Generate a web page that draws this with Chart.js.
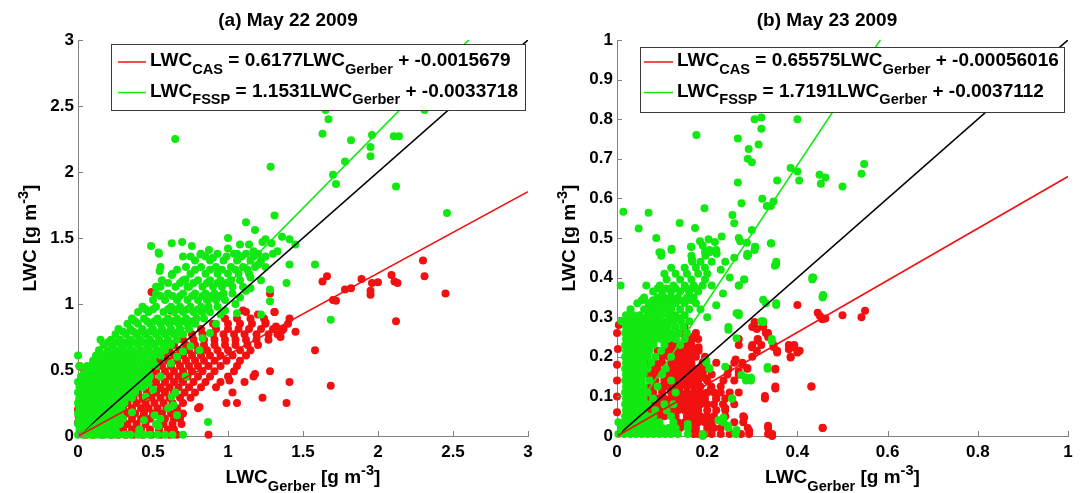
<!DOCTYPE html>
<html><head><meta charset="utf-8">
<script src="https://cdn.jsdelivr.net/npm/chart.js@4/dist/chart.umd.min.js"></script>
<style>
html,body{margin:0;padding:0;background:#fff;width:1082px;height:493px;overflow:hidden}
canvas{position:absolute;top:0}
#ca{left:0}#cb{left:541px}
</style></head>
<body>
<canvas id="ca" width="541" height="493"></canvas>
<canvas id="cb" width="541" height="493"></canvas>
<script>
// ---------- tick values / labels ----------
const aXTicks = [0,0.5,1,1.5,2,2.5,3];
const aXLabels = ['0','0.5','1','1.5','2','2.5','3'];
const aYTicks = [0,0.5,1,1.5,2,2.5,3];
const aYLabels = ['0','0.5','1','1.5','2','2.5','3'];
const bXTicks = [0,0.2,0.4,0.6,0.8,1];
const bXLabels = ['0','0.2','0.4','0.6','0.8','1'];
const bYTicks = [0,0.1,0.2,0.3,0.4,0.5,0.6,0.7,0.8,0.9,1];
const bYLabels = ['0','0.1','0.2','0.3','0.4','0.5','0.6','0.7','0.8','0.9','1'];

// ---------- fit coefficients (slope, intercept) ----------
const aFitCAS = [0.6177, -0.0015679];
const aFitFSSP = [1.1531, -0.0033718];
const bFitCAS = [0.65575, -0.00056016];
const bFitFSSP = [1.7191, -0.0037112];

// ---------- panel (a) May 22 : FSSP (green) rows [y, x...] ----------
const aGreenRows = [
[0.01, 0,0.03,0.06,0.09,0.12,0.15,0.18,0.21,0.24,0.27,0.31,0.35,0.40,0.44,0.48,0.53,0.58,0.63,0.70],
[0.05, 0.01,0.04,0.07,0.10,0.13,0.16,0.19,0.22,0.25,0.41],
[0.09, 0,0.03,0.06,0.09,0.12,0.15,0.18,0.21,0.24,0.28],
[0.13, 0.01,0.04,0.07,0.10,0.13,0.16,0.19,0.22,0.26,0.30],
[0.17, 0,0.03,0.06,0.09,0.12,0.15,0.18,0.21,0.24,0.28],
[0.21, 0.01,0.04,0.07,0.10,0.13,0.16,0.19,0.22,0.25,0.29],
[0.25, 0,0.03,0.06,0.09,0.12,0.15,0.18,0.21,0.24,0.27,0.31],
[0.29, 0.01,0.04,0.07,0.10,0.13,0.16,0.19,0.22,0.25,0.28,0.32,0.36],
[0.33, 0,0.03,0.06,0.09,0.12,0.15,0.18,0.21,0.24,0.27,0.30,0.34,0.38],
[0.37, 0.01,0.04,0.07,0.10,0.13,0.16,0.19,0.22,0.25,0.28,0.31,0.35,0.39,0.43],
[0.41, 0,0.03,0.06,0.09,0.12,0.15,0.18,0.21,0.24,0.27,0.30,0.33,0.37,0.41,0.45],
[0.45, 0.02,0.05,0.08,0.11,0.14,0.17,0.20,0.23,0.26,0.29,0.32,0.36,0.40,0.44,0.48],
[0.49, 0.04,0.07,0.10,0.13,0.16,0.19,0.22,0.25,0.28,0.31,0.34,0.38,0.42,0.46],
[0.53, 0.01,0.06,0.09,0.12,0.15,0.18,0.21,0.24,0.27,0.30,0.34,0.38,0.43,0.47,0.52],
[0.57, 0.10,0.13,0.16,0.20,0.24,0.28,0.32,0.36,0.40,0.45,0.50],
[0.61, 0.00,0.12,0.17,0.22,0.26,0.30,0.35,0.40,0.44,0.49,0.55],
[0.63, 0.19,0.27,0.33,0.38,0.45,0.51],
[0.65, 0.14,0.20,0.25,0.30,0.36,0.42,0.47,0.53,0.58],
[0.69, 0.17,0.23,0.29,0.34,0.40,0.46,0.51,0.57,0.62],
[0.71, 0.20,0.26,0.32,0.38,0.44,0.49,0.55,0.60],
[0.73, 0.15,0.22,0.28,0.35,0.41,0.48,0.54,0.60,0.66],
[0.77, 0.25,0.32,0.39,0.45,0.52,0.58,0.64,0.70],
[0.79, 0.30,0.37,0.42,0.48,0.55,0.61,0.67],
[0.81, 0.27,0.35,0.43,0.50,0.56,0.62,0.68,0.74],
[0.85, 0.33,0.40,0.48,0.55,0.61,0.67,0.73,0.78],
[0.87, 0.38,0.46,0.51,0.58,0.64,0.70,0.76],
[0.89, 0.36,0.44,0.53,0.60,0.66,0.72,0.79,0.84],
[0.94, 0.40,0.47,0.57,0.64,0.70,0.77,0.83,0.88],
[0.96, 0.45,0.50,0.60,0.66,0.73,0.80,0.85],
[0.98, 0.43,0.52,0.62,0.68,0.75,0.82,0.87,0.93],
[1.03, 0.50,0.58,0.66,0.73,0.80,0.86,0.92,0.98],
[1.06, 0.55,0.63,0.68,0.76,0.83,0.89,0.95],
[1.08, 0.52,0.60,0.70,0.78,0.85,0.91,0.97,1.03],
[1.13, 0.55,0.65,0.74,0.83,0.90,0.96,1.03,1.10],
[1.16, 0.60,0.68,0.77,0.86,0.93,0.99],
[1.18, 0.56,0.70,0.80,0.88,0.95,1.02,1.08],
[1.23, 0.63,0.75,0.85,0.93,1.00,1.07,1.14],
[1.26, 0.66,0.78,0.88,0.96,1.05,1.13],
[1.28, 0.55,0.72,0.82,0.92,1.02,1.10,1.18,1.25],
[1.33, 0.78,0.88,0.97,1.06,1.15,1.22],
[1.36, 0.70,0.85,0.99,1.09,1.17,1.25],
[1.38, 0.54,0.82,0.93,1.04,1.12,1.20,1.30]
];
// sparse FSSP points, panel (a) [x,y,...]
const aGreenSparse = [
0.648,2.25, 1.284,2.04, 1.63,2.29, 1.67,2.40, 1.65,2.47, 1.70,1.98, 1.72,1.91, 1.78,2.08, 1.82,2.24,
1.95,2.19, 1.95,2.12, 1.96,2.28, 2.105,2.27, 2.14,2.27, 2.12,1.89, 2.31,2.47, 2.46,1.69, 1.31,1.67,
1.12,1.62, 1.18,1.56, 1.00,1.50, 1.08,1.45, 1.14,1.45, 1.23,1.47, 1.25,1.49, 1.29,1.46, 1.36,1.51,
1.41,1.49, 1.45,1.45, 0.487,1.44, 0.694,1.47, 0.759,1.44, 0.537,1.39, 0.625,1.46, 0.75,1.36,
0.816,1.375, 0.873,1.41, 0.90,1.35, 1.58,1.30, 1.41,1.30, 1.39,1.16, 1.28,1.11, 1.28,1.02, 1.22,0.92,
1.06,0.93, 1.685,0.88, 0.544,1.25, 0.52,1.13, 0.625,1.22, 0.717,1.185, 0.73,1.13, 1.0,1.42, 1.17,1.40,
1.33,1.40, 1.06,1.38, 1.2,1.30, 1.15,1.20, 1.12,1.10, 1.05,1.00,
0.636,0.233, 0.66,0.157, 0.625,0.297, 0.867,0.107, 0.717,0.45, 0.51,0.157, 0.537,0.074, 0.452,0.297,
0.36,0.18, 0.44,0.12, 0.81,0.65, 0.75,0.68, 0.88,0.78, 0.52,0.09, 0.55,0.13, 0.60,0.21,
0.65,0.33, 0.50,0.35, 0.47,0.40, 0.55,0.45, 0.62,0.55, 0.66,0.60, 0.70,0.64, 0.83,0.74, 0.92,0.85,
0.95,0.92, 0.98,0.95, 1.08,1.05, 1.15,1.12, 1.22,1.18
];
// CAS (red) rows, panel (a)
const aRedRows = [
[0.01, 0.05,0.10,0.16,0.22,0.27,0.32,0.37,0.43,0.49,0.55,0.61,0.66,0.87],
[0.05, 0.12,0.18,0.24,0.30,0.36,0.42,0.48,0.54,0.60,0.64],
[0.09, 0.15,0.21,0.27,0.33,0.39,0.45,0.57,0.63,0.69],
[0.13, 0.18,0.24,0.30,0.36,0.42,0.48,0.58,0.64,0.68],
[0.17, 0.20,0.26,0.32,0.38,0.44,0.50,0.56,0.62,0.70],
[0.21, 0.24,0.30,0.36,0.42,0.47,0.53,0.59,0.66,0.80],
[0.25, 0.27,0.33,0.39,0.45,0.51,0.57,0.63,0.70,0.99,1.06,1.39],
[0.29, 0.31,0.37,0.43,0.49,0.55,0.61,0.68,0.75,1.23],
[0.33, 0.34,0.40,0.46,0.52,0.58,0.64,0.71,0.78,1.03],
[0.37, 0.37,0.43,0.49,0.55,0.61,0.67,0.74,0.82,0.92],
[0.41, 0.40,0.46,0.52,0.58,0.64,0.70,0.77,0.85,0.95,1.11,1.41],
[0.45, 0.43,0.49,0.55,0.61,0.67,0.73,0.80,0.88,1.00,1.17],
[0.49, 0.46,0.52,0.58,0.64,0.70,0.76,0.83,0.91,1.04,1.28],
[0.53, 0.50,0.56,0.62,0.68,0.74,0.80,0.87,0.95,1.06],
[0.57, 0.54,0.60,0.66,0.72,0.78,0.84,0.91,0.99,1.08],
[0.61, 0.58,0.64,0.70,0.76,0.82,0.88,0.95,1.03,1.12],
[0.65, 0.61,0.68,0.74,0.80,0.86,0.93,1.00,1.08,1.15,1.58],
[0.69, 0.64,0.72,0.78,0.84,0.91,0.98,1.05,1.13,1.20],
[0.73, 0.70,0.77,0.84,0.91,0.98,1.05,1.12,1.19,1.27],
[0.77, 0.76,0.83,0.90,0.97,1.04,1.11,1.19,1.27,1.33],
[0.81, 0.82,0.92,1.00,1.07,1.14,1.22,1.30,1.37],
[0.85, 0.90,1.00,1.08,1.16,1.25,1.40],
[0.89, 0.98,1.06,1.15,1.24,1.41],
[0.94, 1.12,1.31]
];
const aRedSparse = [
0.01,0.53, 0.23,0.60, 0.49,1.09, 0.62,0.95, 1.28,1.08, 1.45,0.79, 2.30,1.33, 2.31,1.21, 2.45,1.08,
2.12,0.87, 2.09,1.22, 2.0,1.165, 1.96,1.16, 1.95,1.10, 1.95,1.07, 1.89,1.19, 1.82,1.12, 1.78,1.11,
1.70,1.03, 1.72,1.025, 1.63,1.17, 1.66,1.21, 1.685,0.38, 2.11,1.17, 2.13,1.16, 1.36,0.80, 1.32,0.83,
1.31,0.94, 1.25,0.86, 1.18,0.47, 1.01,0.42, 0.81,0.22, 0.68,0.146, 0.0,0.10, 0.0,0.20, 0.01,0.28,
0.005,0.15, 1.35,0.75, 1.10,0.95, 1.20,0.92
];

// ---------- panel (b) May 23 ----------
const bGreenRows = [
[0.005, 0.003,0.016,0.029,0.042,0.055,0.068,0.081,0.094,0.107,0.12,0.135,0.157,0.19,0.263],
[0.02, 0.01,0.023,0.036,0.049,0.062,0.075,0.088,0.10,0.115,0.13,0.157,0.247],
[0.035, 0.003,0.016,0.029,0.042,0.055,0.068,0.081,0.094,0.125,0.236],
[0.05, 0.018,0.03,0.042,0.055,0.068,0.081,0.12],
[0.065, 0.02,0.033,0.046,0.059,0.085,0.11],
[0.08, 0.018,0.03,0.042,0.055,0.068,0.105,0.125],
[0.095, 0.02,0.033,0.046,0.059,0.08,0.255],
[0.11, 0.018,0.03,0.042,0.055,0.068,0.13],
[0.125, 0.02,0.033,0.046,0.059,0.09],
[0.14, 0.018,0.03,0.042,0.055,0.072,0.12,0.286,0.297],
[0.155, 0.02,0.033,0.046,0.059,0.10],
[0.17, 0.018,0.03,0.042,0.055,0.068,0.108,0.205,0.334],
[0.185, 0.02,0.033,0.046,0.059,0.076,0.198],
[0.20, 0.018,0.03,0.042,0.055,0.068,0.085,0.12],
[0.215, 0.02,0.033,0.046,0.059,0.072,0.098],
[0.23, 0.018,0.03,0.042,0.055,0.068,0.081,0.105,0.14],
[0.245, 0.02,0.033,0.046,0.059,0.072,0.085,0.098,0.113,0.13,0.15,0.343],
[0.2525, 0.025,0.05,0.075,0.10,0.125],
[0.26, 0.018,0.03,0.042,0.055,0.068,0.081,0.094,0.105,0.12,0.137,0.155],
[0.275, 0.02,0.033,0.046,0.059,0.072,0.085,0.098,0.113,0.13,0.147,0.247],
[0.29, 0.01,0.023,0.036,0.049,0.065,0.08,0.095,0.11,0.125,0.142,0.16,0.324],
[0.2975, 0.03,0.058,0.088,0.12,0.14],
[0.305, 0.02,0.036,0.05,0.068,0.083,0.098,0.115,0.13,0.15,0.27],
[0.32, 0.03,0.06,0.075,0.09,0.105,0.12,0.14,0.16],
[0.335, 0.045,0.07,0.085,0.10,0.115,0.13,0.15,0.175,0.353],
[0.3425, 0.055,0.08,0.11,0.14,0.165],
[0.35, 0.06,0.09,0.105,0.12,0.135,0.155,0.17,0.456],
[0.365, 0.08,0.10,0.12,0.14,0.16,0.18],
[0.3725, 0.09,0.11,0.13,0.155,0.175],
[0.38, 0.008,0.065,0.095,0.125,0.15,0.17,0.19,0.27],
[0.395, 0.11,0.14,0.165,0.195,0.282,0.433],
[0.41, 0.105,0.13,0.155,0.18,0.20],
[0.425, 0.12,0.15,0.175,0.195],
[0.44, 0.167,0.185,0.21,0.353],
[0.455, 0.098,0.165,0.196,0.289],
[0.47, 0.121,0.205,0.22,0.305]
];
const bGreenSparse = [
0.014,0.566, 0.048,0.524, 0.07,0.564, 0.087,0.50, 0.139,0.538, 0.121,0.473, 0.165,0.477, 0.173,0.525,
0.176,0.760, 0.194,0.575, 0.184,0.492, 0.19,0.481, 0.203,0.497, 0.217,0.49, 0.232,0.504, 0.256,0.558,
0.26,0.537, 0.268,0.64, 0.268,0.751, 0.27,0.50, 0.273,0.492, 0.276,0.588, 0.288,0.488, 0.292,0.725,
0.29,0.70, 0.299,0.691, 0.299,0.52, 0.305,0.80, 0.32,0.804, 0.314,0.736, 0.32,0.776, 0.322,0.599,
0.332,0.581, 0.341,0.581, 0.347,0.592, 0.355,0.645, 0.385,0.677, 0.40,0.668, 0.404,0.645, 0.40,0.80,
0.449,0.66, 0.452,0.637, 0.462,0.653, 0.50,0.63, 0.542,0.662, 0.548,0.687, 0.342,0.486, 0.307,0.477,
0.098,0.463, 0.166,0.446, 0.164,0.478, 0.195,0.465, 0.221,0.46, 0.289,0.455, 0.306,0.478, 0.341,0.487,
0.094,0.464, 0.167,0.443, 0.205,0.464, 0.22,0.464, 0.289,0.46, 0.353,0.434, 0.282,0.395,
0.27,0.38, 0.324,0.344, 0.353,0.331, 0.433,0.40, 0.456,0.352, 0.247,0.268, 0.27,0.31, 0.324,0.288,
0.343,0.24, 0.334,0.174, 0.286,0.148, 0.297,0.148, 0.255,0.095, 0.236,0.047, 0.247,0.026, 0.263,0.009,
0.19,0.0, 0.157,0.03, 0.198,0.19, 0.205,0.172, 0.265,0.247, 0.24,0.175, 0.276,0.154, 0.265,0.31,
0.291,0.457, 0.35,0.43, 0.225,0.04, 0.265,0.015, 0.33,0.335, 0.32,0.29, 0.435,0.40, 0.457,0.356,
0.23,0.42, 0.25,0.40, 0.21,0.38, 0.235,0.36, 0.22,0.33, 0.20,0.30, 0.185,0.32, 0.24,0.44, 0.26,0.45
];
const bRedRows = [
[0.005, 0.17,0.18,0.195,0.21,0.23,0.25,0.275,0.293,0.335,0.344],
[0.02, 0.14,0.16,0.175,0.20,0.215,0.23,0.29,0.335,0.456],
[0.035, 0.135,0.15,0.165,0.18,0.195,0.21,0.26,0.28],
[0.05, 0.09,0.105,0.13,0.155,0.17,0.185,0.20,0.215,0.24,0.28],
[0.065, 0.075,0.095,0.12,0.135,0.15,0.165,0.18,0.20,0.22,0.24],
[0.08, 0.08,0.09,0.11,0.14,0.155,0.17,0.185,0.20,0.215,0.235,0.26],
[0.095, 0.07,0.09,0.105,0.12,0.135,0.15,0.165,0.18,0.195,0.22,0.24,0.328],
[0.11, 0.08,0.10,0.12,0.14,0.155,0.17,0.185,0.20,0.215,0.23,0.25,0.27],
[0.125, 0.075,0.095,0.11,0.125,0.14,0.155,0.17,0.185,0.209,0.23,0.351,0.431],
[0.14, 0.085,0.105,0.12,0.135,0.15,0.165,0.18,0.20,0.236,0.26],
[0.155, 0.07,0.085,0.10,0.115,0.13,0.145,0.16,0.175,0.19,0.21,0.245,0.27],
[0.17, 0.08,0.09,0.11,0.125,0.14,0.155,0.17,0.185,0.20,0.247,0.289,0.351],
[0.185, 0.07,0.085,0.10,0.12,0.135,0.15,0.165,0.19,0.22,0.26,0.278],
[0.20, 0.10,0.115,0.13,0.145,0.16,0.175,0.195,0.30,0.385],
[0.215, 0.09,0.11,0.125,0.14,0.155,0.17,0.181,0.31,0.355,0.40,0.405],
[0.23, 0.12,0.135,0.15,0.165,0.27,0.30,0.32,0.347,0.381,0.393],
[0.245, 0.13,0.15,0.167,0.18,0.27,0.312],
[0.26, 0.14,0.152,0.175,0.335],
[0.275, 0.15,0.30,0.324]
];
const bRedSparse = [
0.0,0.06, 0.0,0.10, 0.0,0.14, 0.0,0.18, 0.002,0.22, 0.0,0.26, 0.004,0.28, 0.40,0.331, 0.445,0.311,
0.45,0.303, 0.462,0.297, 0.50,0.305, 0.542,0.30, 0.55,0.316, 0.305,0.288, 0.455,0.295, 0.312,0.241,
0.299,0.224, 0.335,0.25, 0.347,0.225, 0.381,0.219, 0.393,0.224, 0.40,0.211, 0.385,0.198, 0.355,0.211,
0.263,0.193, 0.278,0.18, 0.289,0.172, 0.27,0.163, 0.247,0.168, 0.351,0.168, 0.351,0.12, 0.328,0.101,
0.431,0.125, 0.456,0.021, 0.335,0.026, 0.344,0.0, 0.293,0.013, 0.282,0.047, 0.24,0.071, 0.22,0.095,
0.209,0.12, 0.196,0.146, 0.19,0.185, 0.181,0.224, 0.167,0.25, 0.152,0.24, 0.31,0.27, 0.33,0.26
];

// ---------- helpers ----------
const FONT = '"Liberation Sans", Arial, Helvetica, sans-serif';
const RED = '#f21010', GREEN = '#12e812';
function rowsToPts(rows){const o=[];for(const r of rows){for(let i=1;i<r.length;i++)o.push({x:r[i],y:r[0]});}return o;}
function pairsToPts(a){const o=[];for(let i=0;i<a.length;i+=2)o.push({x:a[i],y:a[i+1]});return o;}

function drawRich(ctx, parts, x, y, size, align){
  const sub = Math.round(size*0.77*10)/10;
  let w = 0;
  const items = parts.map(([t,k])=>{const fs=k?sub:size;ctx.font=`bold ${fs}px ${FONT}`;const m=ctx.measureText(t).width;w+=m;return {t,k,fs,m};});
  let cx = align==='center' ? x-w/2 : x;
  ctx.textAlign='left'; ctx.textBaseline='alphabetic'; ctx.fillStyle='#000';
  for(const it of items){
    ctx.font=`bold ${it.fs}px ${FONT}`;
    const dy = it.k===1 ? size*0.42 : (it.k===2 ? -size*0.42 : 0);
    ctx.fillText(it.t, cx, y+dy);
    cx += it.m;
  }
}

function makePanel(id, P){
  const fitLine = (f)=>[{x:0,y:f[1]},{x:P.xMax,y:f[0]*P.xMax+f[1]}];
  const decor = {
    id:'decor',
    afterDraw(chart){
      const ctx=chart.ctx, ca=chart.chartArea, xs=chart.scales.x, ys=chart.scales.y;
      ctx.save();
      ctx.strokeStyle='#808080'; ctx.lineWidth=1;
      ctx.beginPath();
      for(const v of P.xTicks){const px=Math.round(xs.getPixelForValue(v))+0.5;ctx.moveTo(px,ca.bottom);ctx.lineTo(px,ca.bottom-5);}
      for(const v of P.yTicks){const py=Math.round(ys.getPixelForValue(v))+0.5;ctx.moveTo(ca.left,py);ctx.lineTo(ca.left+5,py);}
      ctx.stroke();
      drawRich(ctx, [[P.title,0]], ca.left+210, 26, 19, 'center');
      drawRich(ctx, [['LWC',0],['Gerber',1],[' [g m',0],['-3',2],[']',0]], (ca.left+ca.right)/2, 483, 19, 'center');
      ctx.save(); ctx.translate(ca.left-42, (ca.top+ca.bottom)/2); ctx.rotate(-Math.PI/2);
      drawRich(ctx, [['LWC [g m',0],['-3',2],[']',0]], 0, 0, 19, 'center');
      ctx.restore();
      const L=P.legend;
      ctx.fillStyle='#fff'; ctx.fillRect(ca.left+L.x0, L.y0, L.x1-L.x0, L.y1-L.y0);
      ctx.strokeStyle='#3a3a3a'; ctx.lineWidth=1;
      ctx.strokeRect(ca.left+L.x0+0.5, L.y0+0.5, L.x1-L.x0, L.y1-L.y0);
      const rows=[[RED,'CAS',P.fitCAS,66,62],[GREEN,'FSSP',P.fitFSSP,96.5,92.5]];
      for(const [col,name,f,by,ly] of rows){
        ctx.strokeStyle=col; ctx.lineWidth=1.5;
        ctx.beginPath(); ctx.moveTo(ca.left+L.lx0, ly); ctx.lineTo(ca.left+L.lx1, ly); ctx.stroke();
        drawRich(ctx, [['LWC',0],[name,1],[' = '+String(f[0])+'LWC',0],['Gerber',1],[' + '+String(f[1]),0]], ca.left+L.tx, by, L.fs, 'left');
      }
      ctx.restore();
    }
  };
  const tickFont = {family:FONT, size:17, weight:'bold'};
  return new Chart(document.getElementById(id), {
    data:{datasets:[
      {type:'line', data:fitLine(P.fitCAS), borderColor:RED, borderWidth:1.6, pointRadius:0, fill:false, order:0},
      {type:'line', data:fitLine(P.fitFSSP), borderColor:GREEN, borderWidth:1.6, pointRadius:0, fill:false, order:0},
      {type:'line', data:[{x:0,y:0},{x:P.xMax,y:P.xMax}], borderColor:'#000', borderWidth:1.6, pointRadius:0, fill:false, order:0},
      {type:'scatter', data:P.green, backgroundColor:GREEN, borderWidth:0, pointRadius:4, clip:false, order:1},
      {type:'scatter', data:P.red, backgroundColor:RED, borderWidth:0, pointRadius:4, clip:false, order:2}
    ]},
    options:{
      responsive:false, animation:false, events:[], devicePixelRatio:1,
      layout:{padding:{left:0,right:P.padRight,top:40,bottom:0}},
      plugins:{legend:{display:false}, tooltip:{enabled:false}},
      scales:{
        x:{type:'linear', min:0, max:P.xMax,
           afterBuildTicks:s=>{s.ticks=P.xTicks.map(v=>({value:v}));},
           afterFit:s=>{s.height=57;},
           grid:{display:false, drawTicks:false},
           border:{display:true, color:'#808080', width:1},
           ticks:{callback:(v)=>P.xLabels[P.xTicks.indexOf(v)], font:tickFont, color:'#000', padding:6, maxRotation:0, autoSkip:false}},
        y:{type:'linear', min:0, max:P.yMax,
           afterBuildTicks:s=>{s.ticks=P.yTicks.map(v=>({value:v}));},
           afterFit:s=>{s.width=P.yWidth;},
           grid:{display:false, drawTicks:false},
           border:{display:true, color:'#808080', width:1},
           ticks:{callback:(v)=>P.yLabels[P.yTicks.indexOf(v)], font:tickFont, color:'#000', padding:4, autoSkip:false}}
      }
    },
    plugins:[decor]
  });
}

makePanel('ca', {
  title:'(a) May 22 2009', xMax:3, yMax:3, xTicks:aXTicks, xLabels:aXLabels, yTicks:aYTicks, yLabels:aYLabels,
  fitCAS:aFitCAS, fitFSSP:aFitFSSP, yWidth:78, padRight:13,
  green: rowsToPts(aGreenRows).concat(pairsToPts(aGreenSparse)),
  red: rowsToPts(aRedRows).concat(pairsToPts(aRedSparse)),
  legend:{x0:33, x1:447, y0:44, y1:110, lx0:40, lx1:68, tx:72, fs:19}
});
makePanel('cb', {
  title:'(b) May 23 2009', xMax:1, yMax:1, xTicks:bXTicks, xLabels:bXLabels, yTicks:bYTicks, yLabels:bYLabels,
  fitCAS:bFitCAS, fitFSSP:bFitFSSP, yWidth:76, padRight:14,
  green: rowsToPts(bGreenRows).concat(pairsToPts(bGreenSparse)),
  red: rowsToPts(bRedRows).concat(pairsToPts(bRedSparse)),
  legend:{x0:23, x1:447, y0:47, y1:112, lx0:27, lx1:56, tx:60, fs:19}
});
</script>
</body></html>
